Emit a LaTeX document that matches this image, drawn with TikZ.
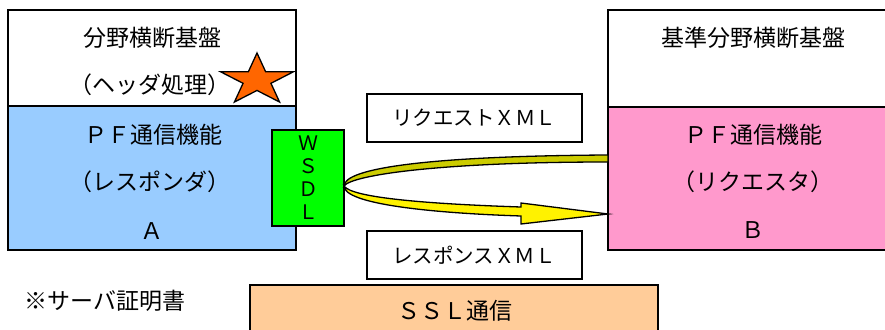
\documentclass[tikz,border=0pt]{standalone}
\usepackage{fontspec}
\newfontfamily\jpfont{Noto Sans CJK JP}
\usepackage{tikz}
\definecolor{respblue}{HTML}{99CCFF}
\definecolor{reqpink}{HTML}{FF99CC}
\definecolor{wsdlgreen}{HTML}{00FF00}
\definecolor{sslorange}{HTML}{FFCC99}
\definecolor{starorange}{HTML}{FF6600}
\definecolor{backyellow}{HTML}{CCCC00}

\begin{document}
\begin{tikzpicture}[x=1pt,y=-1pt,
    box/.style={draw, line width=1.3pt},
    jp/.style={font=\jpfont\fontsize{23}{27}\selectfont, inner sep=0pt},
    jps/.style={font=\jpfont\fontsize{20.5}{24}\selectfont, inner sep=0pt}]
        \useasboundingbox (0,0) rectangle (885,329);
        \clip (0,0) rectangle (885,329);
        % side A
        \draw[box, fill=white] (8,10) rectangle (296,106);
        \draw[box, fill=respblue] (8,106) rectangle (296,250);
        \node[jp] (baseA) at (152,38) {分野横断基盤};
        \node[jp] (headerA) at (150,85) {（ヘッダ処理）};
        \node[jp] (pfA) at (153,135) {ＰＦ通信機能};
        \node[jp] (roleA) at (150,182) {（レスポンダ）};
        \node[jp] (nameA) at (152,231) {Ａ};
        \draw[line width=1.3pt, fill=starorange, xscale=38.4, yscale=27.1, shift={(257/38.4,80.1/27.1)}]
            (90:-1) -- (126:-0.382) -- (162:-1) -- (198:-0.382) -- (234:-1) -- (270:-0.382)
            -- (306:-1) -- (342:-0.382) -- (18:-1) -- (54:-0.382) -- cycle;
        % WSDL
        \draw[box, fill=wsdlgreen] (272,130) rectangle (344,226);
        \node[jps, align=center, font=\jpfont\fontsize{20}{23}\selectfont] (wsdl) at (308,178) {Ｗ\\Ｓ\\Ｄ\\Ｌ};
        % side B
        \draw[box, fill=white] (608,10) rectangle (900,107);
        \draw[box, fill=reqpink] (608,107) rectangle (900,250);
        \node[jp] (baseB) at (753,38) {基準分野横断基盤};
        \node[jp] (pfB) at (753,135) {ＰＦ通信機能};
        \node[jp] (roleB) at (753,182) {（リクエスタ）};
        \node[jp] (nameB) at (753,230) {Ｂ};
        % messages
        \draw[box, fill=white] (367,94) rectangle (582,142);
        \node[jps] (request) at (474,118) {リクエストＸＭＬ};
        \draw[box, fill=white] (367,231) rectangle (582,279);
        \node[jps] (response) at (474,255) {レスポンスＸＭＬ};
        % arrow
        \draw[line width=1.3pt, fill=backyellow] (608,155) .. controls (430,156) and (344,168) .. (344,186)
            .. controls (352,175) and (440,162) .. (608,162) -- cycle;
        \draw[line width=1.3pt, fill=yellow] (344,186) .. controls (344,204) and (430,213) .. (521,216)
            -- (521,224) -- (608,214) -- (521,203) -- (521,207)
            .. controls (430,204) and (352,198) .. (344,186) -- cycle;
        % SSL
        \draw[box, fill=sslorange] (250,285) rectangle (658,345);
        \node[jp] (ssl) at (455,311) {ＳＳＬ通信};
        \node[jp] (cert) at (105,301) {※サーバ証明書};
      \end{tikzpicture}
\end{document}
